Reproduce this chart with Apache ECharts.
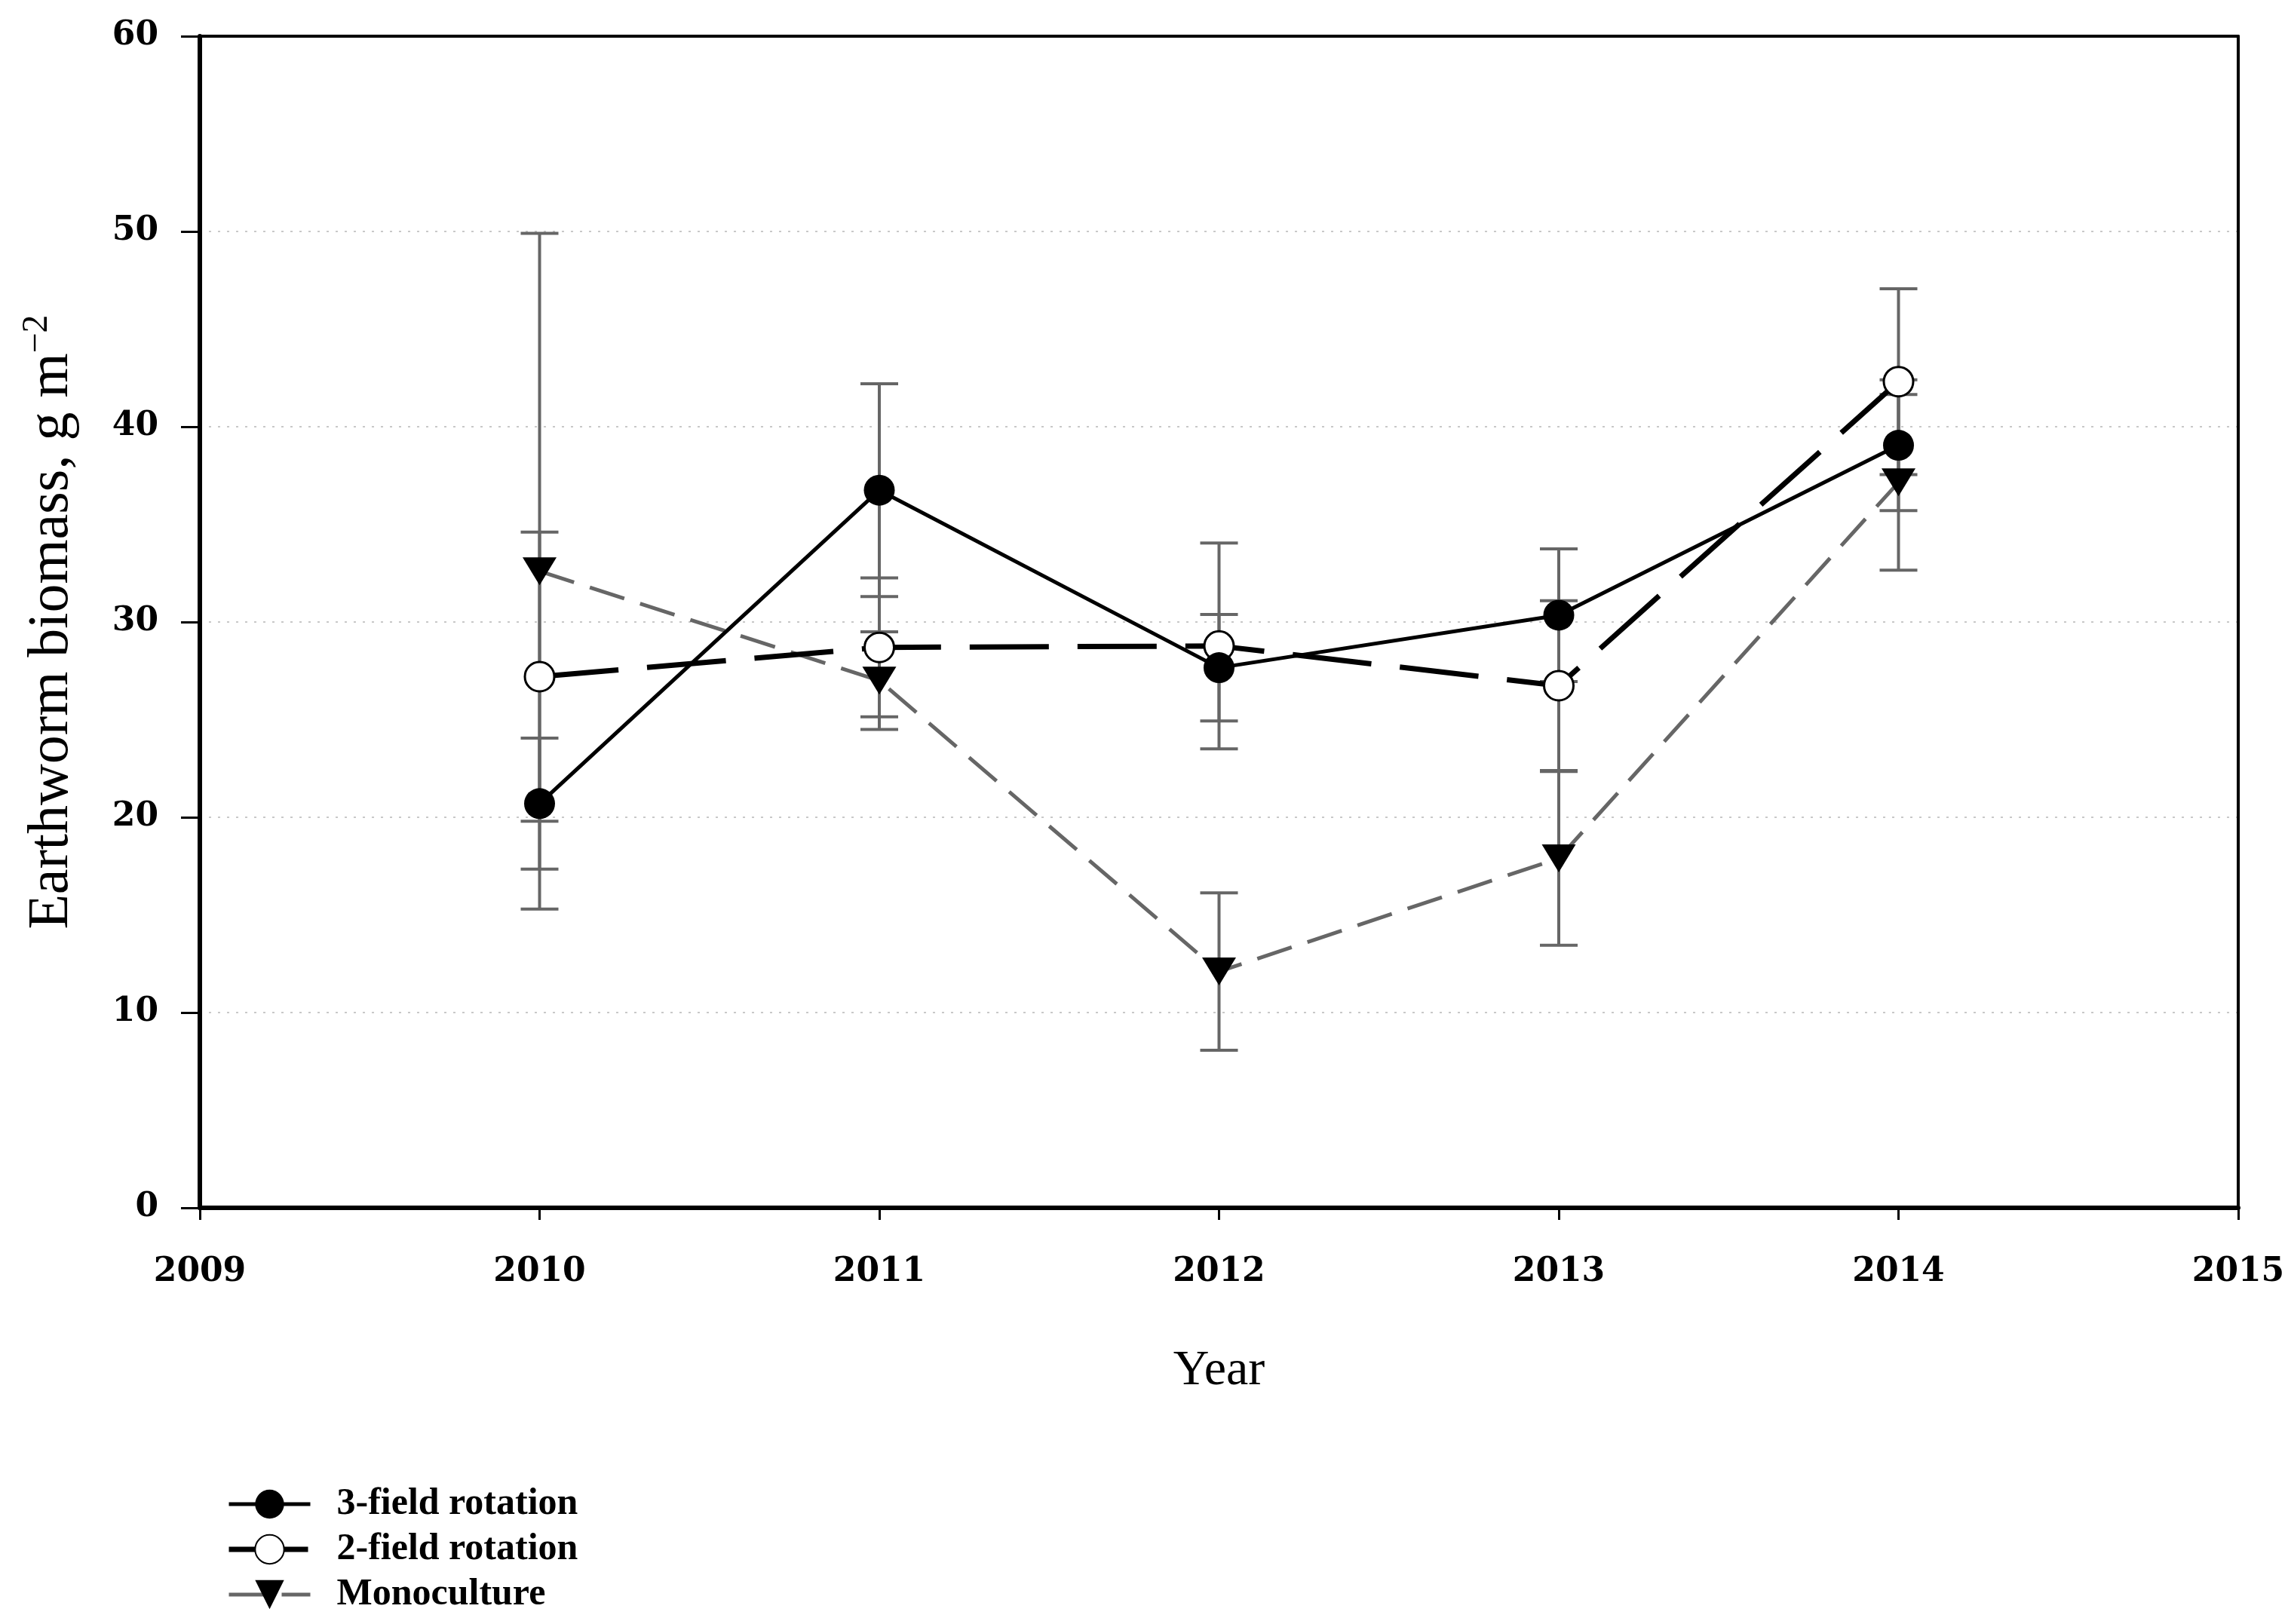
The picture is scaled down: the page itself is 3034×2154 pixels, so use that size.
<!DOCTYPE html>
<html>
<head>
<meta charset="utf-8">
<script src="https://cdn.jsdelivr.net/npm/echarts@6/dist/echarts.min.js"></script>
<style>
html,body{margin:0;padding:0;background:#fff;}
#chart{width:3034px;height:2154px;}
</style>
</head>
<body>
<div id="chart"></div>
<script>
const years = [2010, 2011, 2012, 2013, 2014];
const threeField = [20.7, 36.75, 27.66, 30.35, 39.05];
const threeFieldErr = [3.35, 5.45, 2.73, 3.4, 3.35];
const twoField = [27.2, 28.7, 28.77, 26.74, 42.31];
const twoFieldErr = [7.4, 3.56, 5.27, 4.35, 4.76];
const mono = [32.6, 27.0, 12.1, 17.9, 37.15];
const monoErr = [17.3, 2.5, 4.03, 4.45, 4.5];
const seriesNames = ['3-field rotation', '2-field rotation', 'Monoculture'];
const yTicks = [0, 10, 20, 30, 40, 50, 60];
const xTicks = [2009, 2010, 2011, 2012, 2013, 2014, 2015];

const chart = echarts.init(document.getElementById('chart'), null, {renderer: 'canvas'});

function pts(vals) { return years.map((y, i) => [y, vals[i]]); }
function errPts(vals, errs) { return years.map((y, i) => [y, vals[i], errs[i]]); }

function errSeries(vals, errs, z) {
  return {
    type: 'custom',
    silent: true,
    z: z,
    data: errPts(vals, errs),
    renderItem: function (params, api) {
      const x = api.value(0), v = api.value(1), e = api.value(2);
      const top = api.coord([x, v + e]);
      const bot = api.coord([x, v - e]);
      const hw = 25;
      const st = {stroke: '#666666', lineWidth: 4};
      return {
        type: 'group',
        children: [
          {type: 'line', shape: {x1: top[0], y1: top[1], x2: bot[0], y2: bot[1]}, style: st},
          {type: 'line', shape: {x1: top[0] - hw, y1: top[1], x2: top[0] + hw, y2: top[1]}, style: st},
          {type: 'line', shape: {x1: bot[0] - hw, y1: bot[1], x2: bot[0] + hw, y2: bot[1]}, style: st}
        ]
      };
    }
  };
}

const serif = '"Liberation Serif", "Times New Roman", serif';
const tickFont = '"DejaVu Serif", serif';

const option = {
  backgroundColor: '#ffffff',
  animation: false,
  grid: {left: 265, right: 66, top: 48, bottom: 552},
  legend: {
    orient: 'vertical',
    left: 300,
    top: 1970,
    padding: 0,
    itemWidth: 108,
    itemHeight: 48,
    itemGap: 10,
    data: seriesNames,
    lineStyle: {width: 'inherit', type: 'inherit', color: 'inherit'},
    textStyle: {fontFamily: serif, fontWeight: 'bold', fontSize: 50, color: '#000', padding: [0, 0, 0, 30]}
  },
  xAxis: [{
    type: 'value',
    min: 2009, max: 2015, interval: 1,
    name: 'Year',
    nameLocation: 'middle',
    nameGap: 184,
    nameTextStyle: {fontFamily: serif, fontSize: 66, color: '#000'},
    axisLine: {show: true, lineStyle: {color: '#000', width: 6}},
    axisTick: {show: true, inside: false, length: 16, lineStyle: {color: '#000', width: 3}},
    axisLabel: {
      margin: 64,
      formatter: function (v) { return xTicks.indexOf(v) >= 0 ? String(v) : ''; },
      fontFamily: tickFont, fontWeight: 'bold', fontSize: 44, color: '#000'
    },
    splitLine: {show: false}
  }, {
    type: 'value', position: 'top', min: 2009, max: 2015, z: 5,
    axisLine: {show: true, onZero: false, lineStyle: {color: '#000', width: 4}},
    axisTick: {show: false}, axisLabel: {show: false}, splitLine: {show: false}
  }],
  yAxis: [{
    type: 'value',
    min: 0, max: 60, interval: 10,
    name: '{a|Earthworm biomass, g m}{s|−2}',
    nameLocation: 'middle',
    nameGap: 152,
    nameRotate: 90,
    nameTextStyle: {
      color: '#000',
      rich: {
        a: {fontFamily: serif, fontSize: 76, color: '#000'},
        s: {fontFamily: serif, fontSize: 48, color: '#000', padding: [0, 0, 40, 0]}
      }
    },
    axisLine: {show: true, lineStyle: {color: '#000', width: 6}},
    axisTick: {show: true, inside: false, length: 25, lineStyle: {color: '#000', width: 3}},
    axisLabel: {
      margin: 55,
      formatter: function (v) { return yTicks.indexOf(v) >= 0 ? String(v) : ''; },
      fontFamily: tickFont, fontWeight: 'bold', fontSize: 44, color: '#000'
    },
    splitLine: {show: true, lineStyle: {color: '#c8c8c8', width: 2, type: [3, 9]}}
  }, {
    type: 'value', position: 'right', min: 0, max: 60, z: 5,
    axisLine: {show: true, onZero: false, lineStyle: {color: '#000', width: 4}},
    axisTick: {show: false}, axisLabel: {show: false}, splitLine: {show: false}
  }],
  series: [
    errSeries(mono, monoErr, 1),
    errSeries(twoField, twoFieldErr, 1),
    errSeries(threeField, threeFieldErr, 1),
    {
      name: seriesNames[2], type: 'line', z: 3,
      data: pts(mono),
      symbol: 'triangle', symbolRotate: 180, symbolSize: [45, 37],
      itemStyle: {color: '#000', borderWidth: 0},
      lineStyle: {color: '#666666', width: 5, type: [48, 22]}
    },
    {
      name: seriesNames[1], type: 'line', z: 4,
      data: pts(twoField),
      symbol: 'circle', symbolSize: 39,
      itemStyle: {color: '#fff', borderColor: '#000', borderWidth: 3},
      lineStyle: {color: '#000', width: 7, type: [105, 38]}
    },
    {
      name: seriesNames[0], type: 'line', z: 5,
      data: pts(threeField),
      symbol: 'circle', symbolSize: 41,
      itemStyle: {color: '#000', borderWidth: 0},
      lineStyle: {color: '#000', width: 5, type: 'solid'}
    }
  ]
};
chart.setOption(option);
</script>
</body>
</html>
